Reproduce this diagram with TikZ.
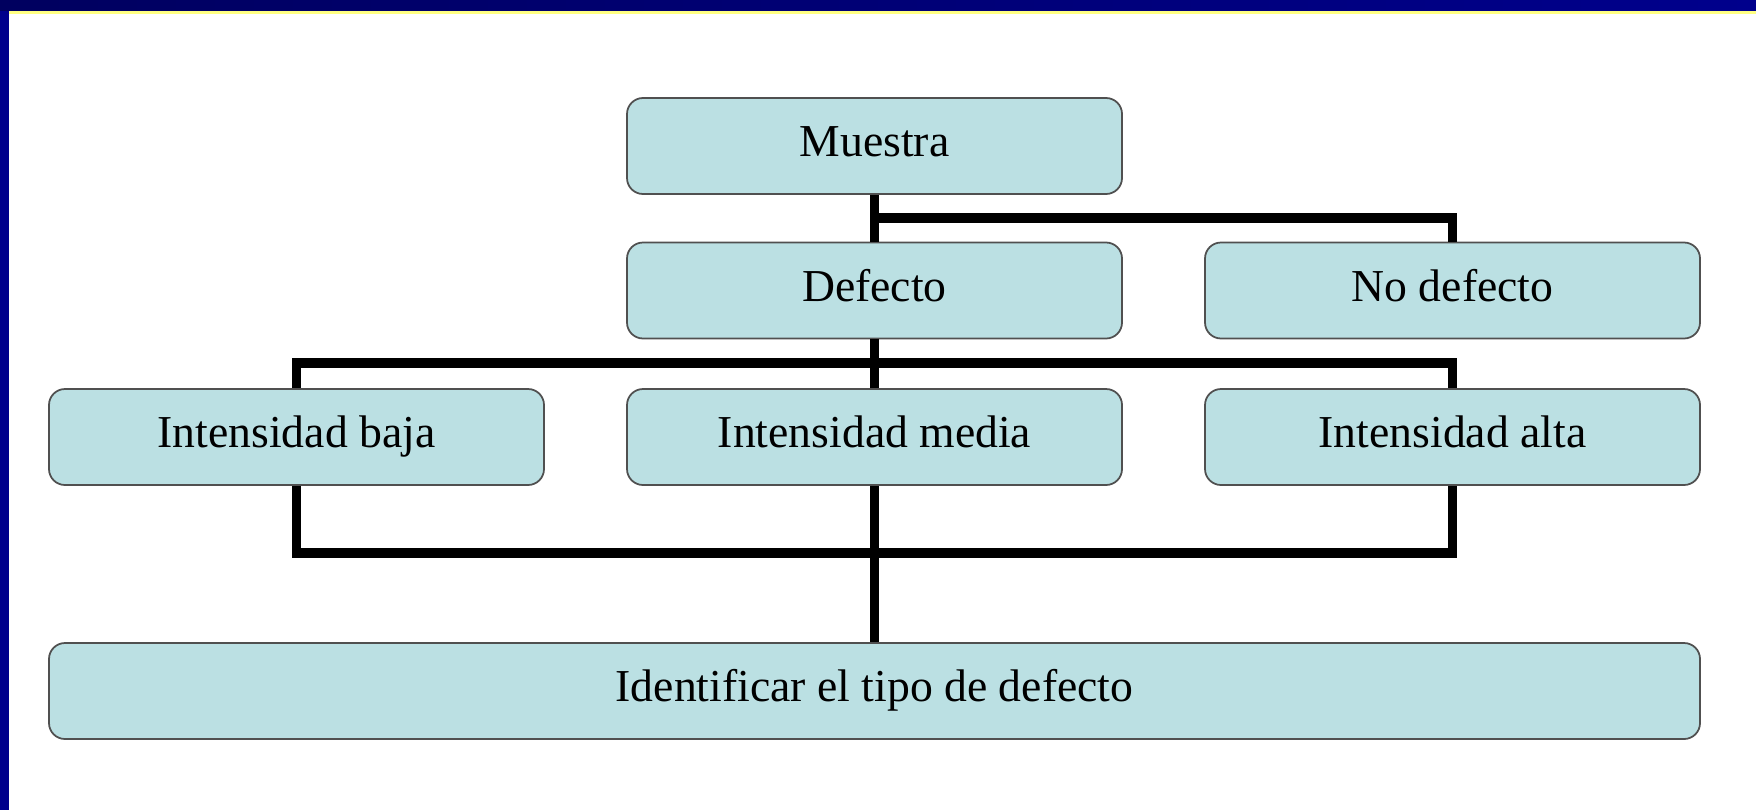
\documentclass[tikz,border=0pt]{standalone}
\usepackage{fontspec}
\setmainfont{Liberation Serif}
\definecolor{boxfill}{RGB}{187,224,227}
\definecolor{boxline}{RGB}{80,80,80}
\definecolor{framedark}{RGB}{0,0,95}
\definecolor{framelight}{RGB}{0,0,140}
\definecolor{frameyellow}{RGB}{255,255,130}
\begin{document}
\begin{tikzpicture}[
    every node/.style = {font = \fontsize{13}{15}\selectfont},
    item/.style = {draw = boxline, line width = .5pt, fill = boxfill,
      rounded corners = 1.6mm, minimum width = 4.95cm, minimum height = .96cm,
      inner sep = 0pt, text height = 9pt, text depth = 3pt},
    wide/.style = {item, minimum width = 16.51cm},
    link/.style = {line width = 2.6pt}]
  \useasboundingbox (0,0) rectangle (17.56,8.10);
  \fill [white] (0,0) rectangle (17.56,8.10);
  % slide frame
  \shade [left color = framedark, right color = framelight]
    (0,7.99) rectangle (17.56,8.10);
  \fill [frameyellow] (.09,7.96) rectangle (17.56,7.99);
  \fill [framelight] (0,0) rectangle (.09,7.99);
  % boxes
  \node [item] (muestra) at (8.745,6.64) {Muestra};
  \node [item] (defecto) at (8.745,5.195) {Defecto};
  \node [item] (nodef) at (14.525,5.195) {No defecto};
  \node [item] (baja) at (2.965,3.73) {Intensidad baja};
  \node [item] (media) at (8.745,3.73) {Intensidad media};
  \node [item] (alta) at (14.525,3.73) {Intensidad alta};
  \node [wide] (tipo) at (8.745,1.19) {Identificar el tipo de defecto};
  % bus levels
  \coordinate (bus1) at (0,5.92);
  \coordinate (bus2) at (0,4.47);
  \coordinate (bus3) at (0,2.57);
  % connectors
  \draw [link] (muestra.south) -- (defecto.north);
  \draw [link] (muestra.south |- bus1) -| (nodef.north);
  \draw [link] (defecto.south) -- (media.north);
  \draw [link] (baja.north) |- (alta.north |- bus2) -- (alta.north);
  \draw [link] (baja.south) |- (alta.south |- bus3) -- (alta.south);
  \draw [link] (media.south) -- (tipo.north);
\end{tikzpicture}
\end{document}
